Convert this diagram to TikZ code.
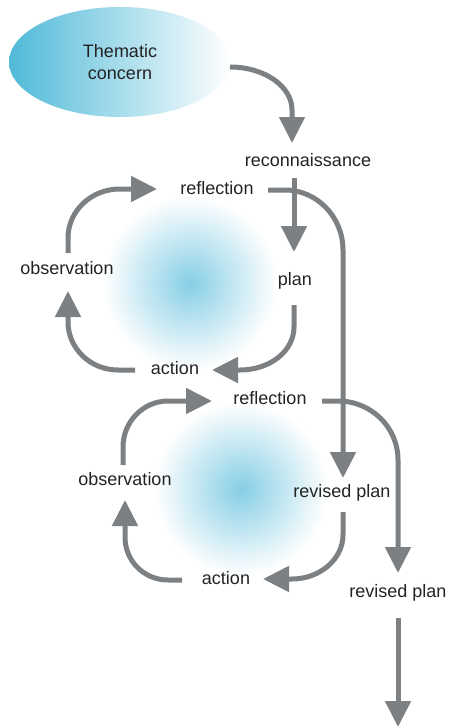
\documentclass[tikz,border=0pt]{standalone}
\usepackage{fontspec}
\setmainfont{Liberation Sans}
\usetikzlibrary{arrows.meta,shapes.geometric,fadings}

\definecolor{arrowgray}{RGB}{125,128,131}
\definecolor{labelink}{RGB}{35,35,35}
\definecolor{concernblue}{RGB}{80,186,216}
\definecolor{glowblue}{RGB}{135,207,230}

% soft round glow in the middle of each cycle
\tikzfading[name=glowfade, inner color=transparent!0, outer color=transparent!100]

\tikzset{
  lbl/.style={font=\fontsize{18}{21.6}\selectfont, text=labelink, inner sep=0pt,
              text height=13pt, text depth=4pt},
  flow/.style={draw=arrowgray, line width=5pt, -{Triangle[width=25pt,length=26pt]}},
  glow/.style={fill=glowblue, path fading=glowfade},
}

\begin{document}
\begin{tikzpicture}[x=1pt,y=-1pt]
\fill[white] (0,0) rectangle (453,728);
\useasboundingbox (0,0) rectangle (453,728);

% glows behind the two cycles
\fill[glow] (190,283) circle (86);
\fill[glow] (241,489) circle (86);

% starting point
\node[ellipse, minimum width=222pt, minimum height=110pt, inner sep=0pt,
      left color=concernblue, right color=white, align=center,
      font=\fontsize{18}{21.6}\selectfont, text=labelink] (tc) at (120,62) {Thematic\\concern};

% labels
\node[lbl] (recon)  at (308,162) {reconnaissance};
\node[lbl] (refl1)  at (217,190) {reflection};
\node[lbl] (plan)   at (295,281) {plan};
\node[lbl] (act1)   at (175,370) {action};
\node[lbl] (obs1)   at (67,270)  {observation};
\node[lbl] (refl2)  at (270,400) {reflection};
\node[lbl] (obs2)   at (125,481) {observation};
\node[lbl] (rplan1) at (342,493) {revised plan};
\node[lbl] (act2)   at (226,580) {action};
\node[lbl] (rplan2) at (398,593) {revised plan};
\coordinate (onward) at (398,727);

% thematic concern -> reconnaissance
\draw[flow] ([shift={(110,5)}]tc.center) .. controls (264,67) and (292,86) .. (292,110)
            -- ([shift={(-16,-19)}]recon.center);
% reconnaissance -> plan
\draw[flow] ([shift={(-14,16)}]recon.center) -- ([shift={(-1,-29)}]plan.center);

% first cycle
\draw[flow] ([shift={(-1,24)}]plan.center) -- (294,327) .. controls (294,351) and (270,370) .. (240,370)
            -- ([shift={(37,0)}]act1.center);
\draw[flow] ([shift={(-40,0)}]act1.center) -- (118,370) .. controls (90,370) and (68,348) .. (68,322)
            -- ([shift={(1,21)}]obs1.center);
\draw[flow] ([shift={(1,-17)}]obs1.center) -- (68,238) .. controls (68,211) and (91,189) .. (120,189)
            -- ([shift={(-60,-1)}]refl1.center);
% reflection -> revised plan
\draw[flow] ([shift={(51,0)}]refl1.center) -- (285,190) .. controls (317,190) and (343,217) .. (343,250)
            -- ([shift={(1,-15)}]rplan1.center);

% second cycle
\draw[flow] ([shift={(1,19)}]rplan1.center) -- (343,535) .. controls (343,559) and (320,579) .. (292,579)
            -- ([shift={(37,-1)}]act2.center);
\draw[flow] ([shift={(-44,0)}]act2.center) -- (168,580) .. controls (144,580) and (125,561) .. (125,537)
            -- ([shift={(0,19)}]obs2.center);
\draw[flow] ([shift={(-2,-16)}]obs2.center) -- (123,447) .. controls (123,422) and (143,401) .. (168,401)
            -- ([shift={(-58,1)}]refl2.center);
% reflection -> next revised plan
\draw[flow] ([shift={(52,1)}]refl2.center) -- (338,401) .. controls (371,401) and (398,427) .. (398,460)
            -- ([shift={(0,-20)}]rplan2.center);
% onwards
\draw[flow] ([shift={(0,25)}]rplan2.center) -- (onward);
\end{tikzpicture}
\end{document}
